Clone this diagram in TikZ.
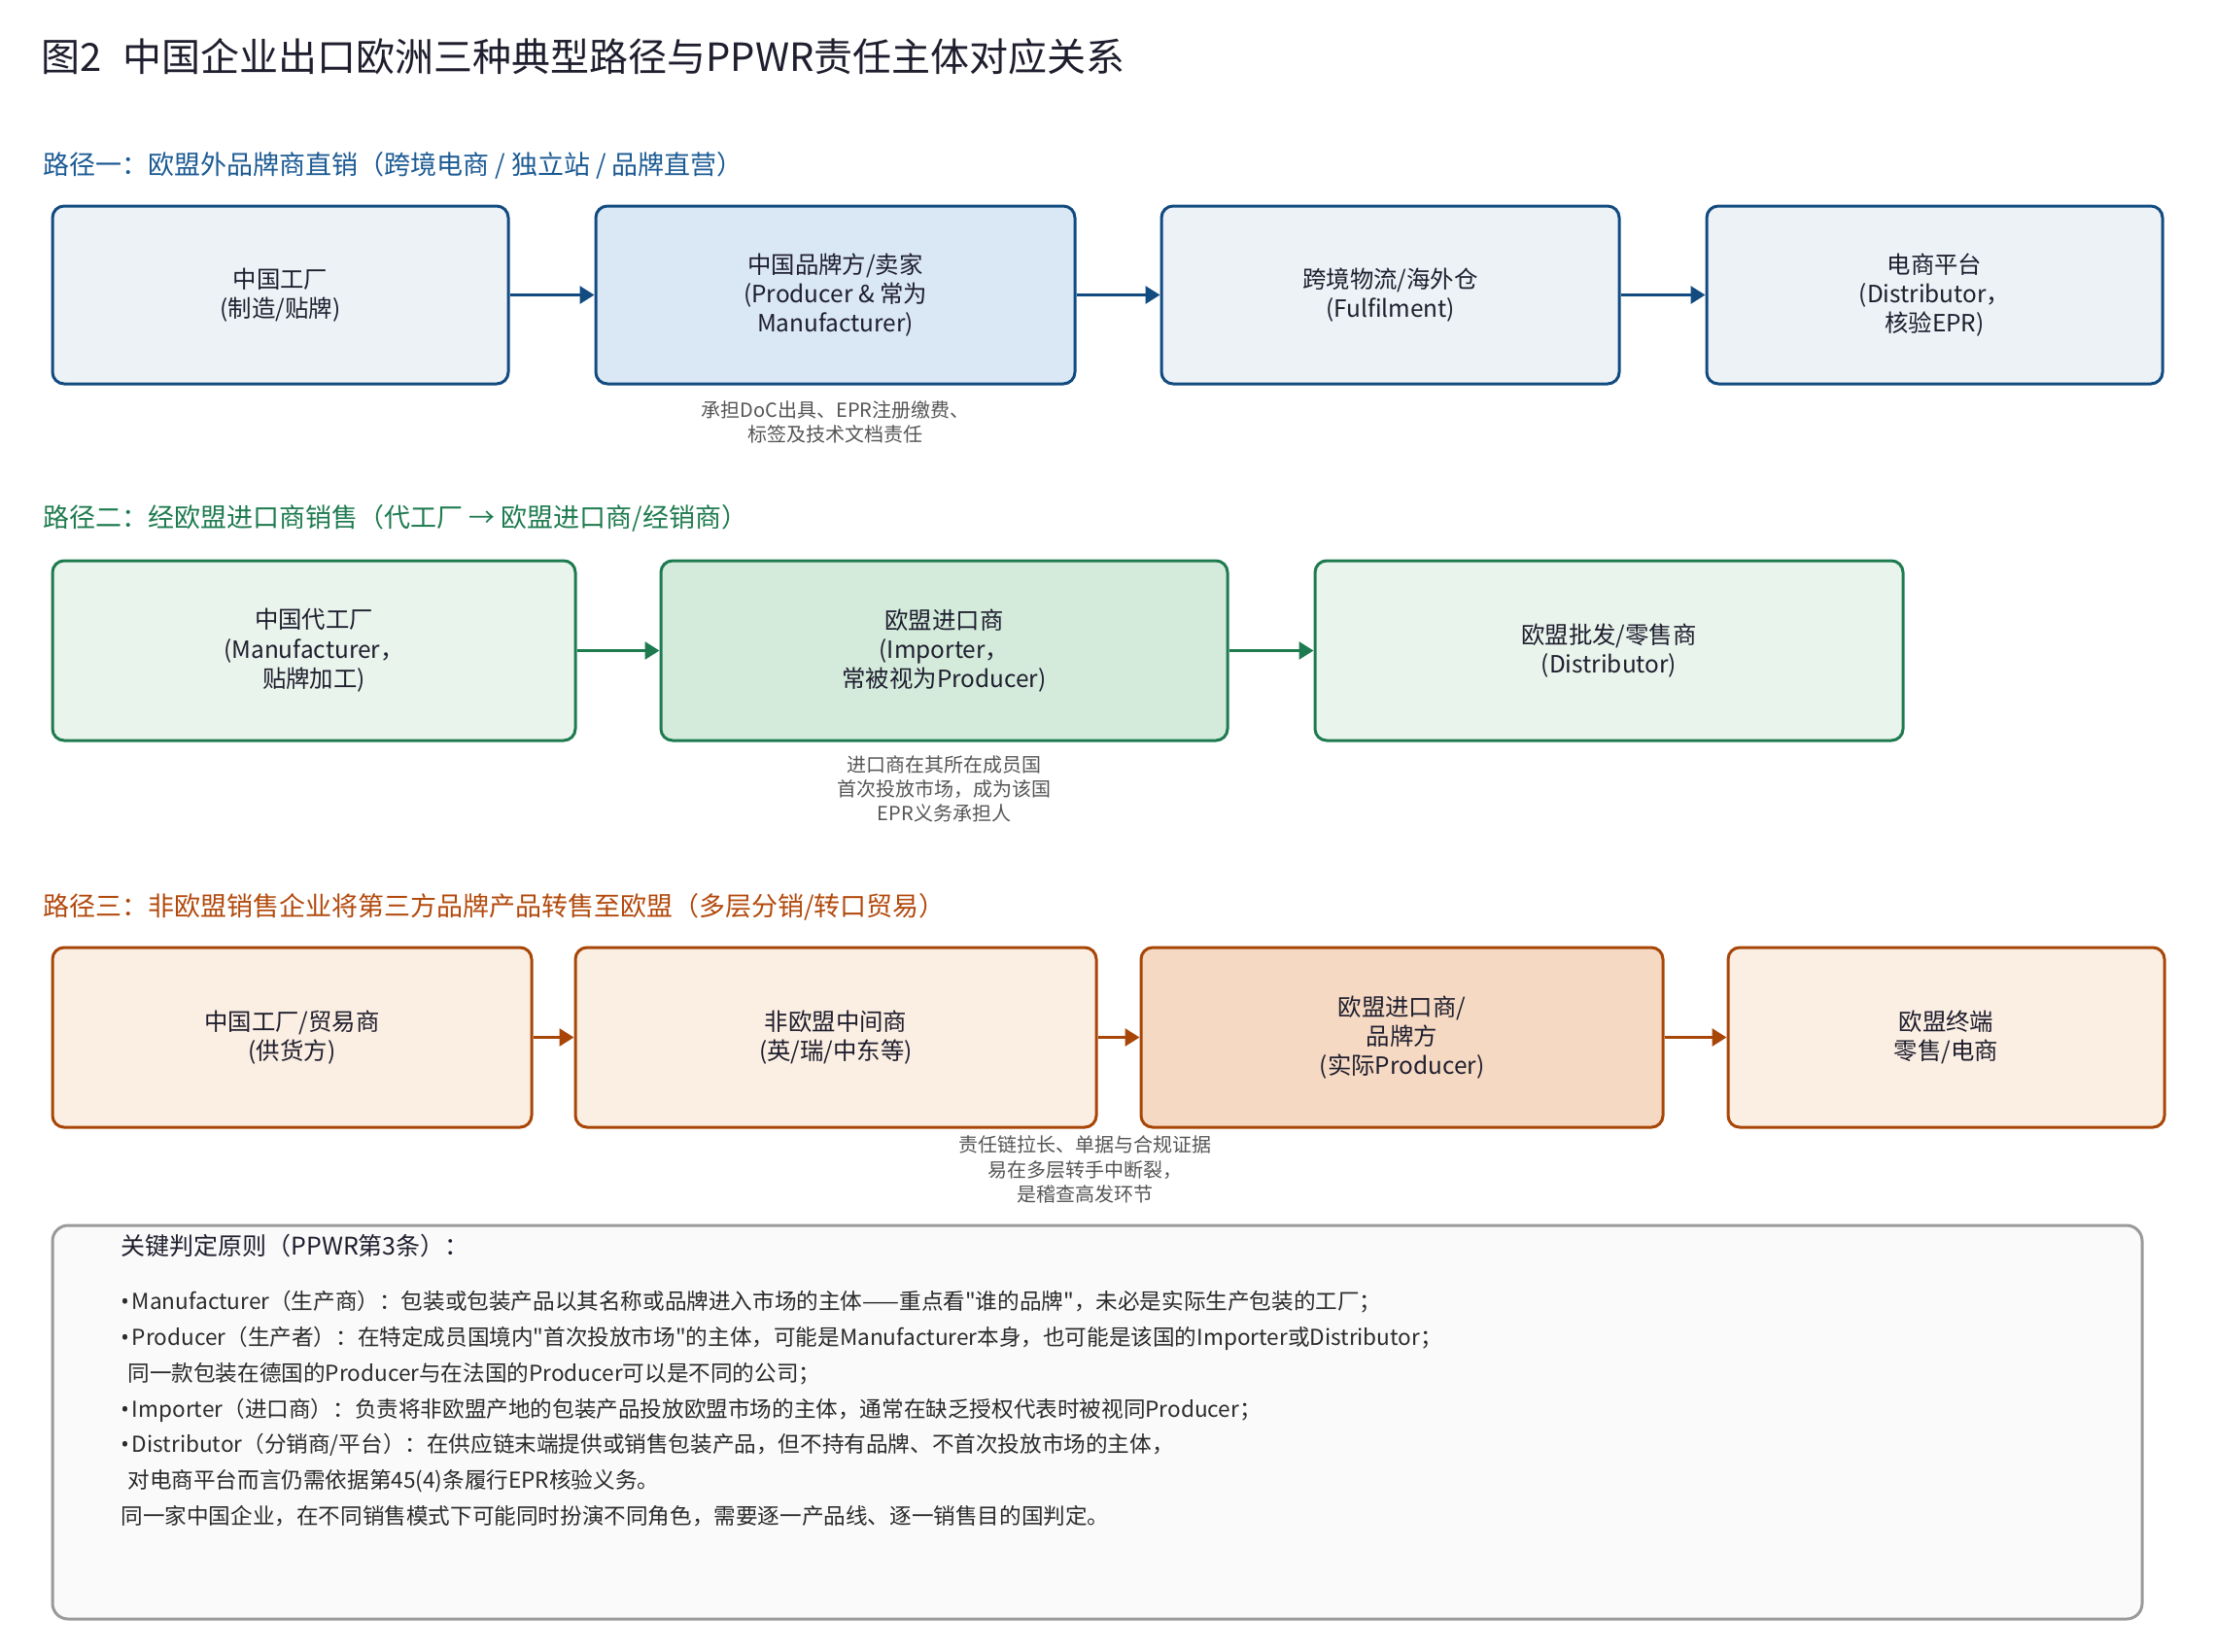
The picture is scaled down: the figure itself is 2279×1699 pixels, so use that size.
\documentclass[tikz,border=0pt]{standalone}
\usepackage{fontspec}
\setmainfont{Noto Sans CJK SC}[Ligatures=TeXOff]
\newfontfamily\latinfont{Noto Sans}
\usepackage{xcolor}
\usetikzlibrary{arrows.meta}

\definecolor{ink}{HTML}{1E1E2E}
\definecolor{notegray}{HTML}{555555}
\definecolor{bodytext}{HTML}{2B2B2B}
\definecolor{blueline}{HTML}{114B80}
\definecolor{bluehead}{HTML}{1B5A93}
\definecolor{bluefill}{HTML}{EDF2F7}
\definecolor{bluedeep}{HTML}{DAE7F4}
\definecolor{greenline}{HTML}{1E7B4F}
\definecolor{greenfill}{HTML}{E9F4EC}
\definecolor{greendeep}{HTML}{D4EBDC}
\definecolor{orangeline}{HTML}{A84607}
\definecolor{orangehead}{HTML}{B2490C}
\definecolor{orangefill}{HTML}{FBEEE2}
\definecolor{orangedeep}{HTML}{F5D9C2}
\definecolor{keyline}{HTML}{9A9A9A}
\definecolor{keyfill}{HTML}{FAFAFA}

\newcommand{\keybul}{{\latinfont •}\hspace{1.5pt}}

\begin{document}
\begin{tikzpicture}[x=0.5pt,y=-0.5pt,
      box/.style={draw, rounded corners=6pt, line width=1.5pt, align=center,
        inner sep=0pt, text=ink, font=\fontsize{12.2}{15.2}\selectfont},
      blbox/.style={box, draw=blueline, fill=bluefill, minimum height=91.5pt},
      grbox/.style={box, draw=greenline, fill=greenfill, minimum height=92.5pt},
      orbox/.style={box, draw=orangeline, fill=orangefill, minimum height=92.5pt},
      head/.style={anchor=west, inner sep=0pt, font=\fontsize{13.5}{16}\selectfont},
      note/.style={align=center, inner sep=0pt, text=notegray, font=\fontsize{10}{12.6}\selectfont},
      arr/.style={-{Triangle[length=7.5pt,width=9pt]}, line width=1.5pt}]
  \useasboundingbox (0,0) rectangle (2279,1699);

  \node[anchor=west, inner sep=0pt, text=ink, font=\fontsize{20}{24}\selectfont] (ttl) at (42,58)
    {图2\hspace{0.55em}中国企业出口欧洲三种典型路径与PPWR责任主体对应关系};

  % path one
  \node[head, text=bluehead] (h1) at (44,170) {路径一：欧盟外品牌商直销（跨境电商 / 独立站 / 品牌直营）};
  \node[blbox, minimum width=234.5pt] (a1) at (288.5,303.5) {中国工厂\\(制造/贴牌)};
  \node[blbox, fill=bluedeep, minimum width=246.5pt] (a2) at (859.5,303.5) {中国品牌方/卖家\\(Producer \& 常为\\Manufacturer)};
  \node[blbox, minimum width=235.5pt] (a3) at (1430.5,303.5) {跨境物流/海外仓\\(Fulfilment)};
  \node[blbox, minimum width=234.5pt] (a4) at (1990.5,303.5) {电商平台\\(Distributor，\\核验EPR)};
  \node[note] (n1) at (859.5,434.5) {承担DoC出具、EPR注册缴费、\\标签及技术文档责任};
  \foreach \i/\j in {a1/a2,a2/a3,a3/a4}
    \draw[arr, blueline] (\i) -- (\j);

  % path two
  \node[head, text=greenline] (h2) at (44,533) {路径二：经欧盟进口商销售（代工厂 → 欧盟进口商/经销商）};
  \node[grbox, minimum width=269pt] (b1) at (323,669.5) {中国代工厂\\(Manufacturer，\\贴牌加工)};
  \node[grbox, fill=greendeep, minimum width=291.5pt] (b2) at (971.5,669.5) {欧盟进口商\\(Importer，\\常被视为Producer)};
  \node[grbox, minimum width=302.5pt] (b3) at (1655.5,669.5) {欧盟批发/零售商\\(Distributor)};
  \node[note] (n2) at (971.5,812) {进口商在其所在成员国\\首次投放市场，成为该国\\EPR义务承担人};
  \foreach \i/\j in {b1/b2,b2/b3}
    \draw[arr, greenline] (\i) -- (\j);

  % path three
  \node[head, text=orangehead] (h3) at (44,933) {路径三：非欧盟销售企业将第三方品牌产品转售至欧盟（多层分销/转口贸易）};
  \node[orbox, minimum width=246.5pt] (c1) at (300.5,1067.5) {中国工厂/贸易商\\(供货方)};
  \node[orbox, minimum width=268pt] (c2) at (860,1067.5) {非欧盟中间商\\(英/瑞/中东等)};
  \node[orbox, fill=orangedeep, minimum width=268.5pt] (c3) at (1442.5,1067.5) {欧盟进口商/\\品牌方\\(实际Producer)};
  \node[orbox, minimum width=224.5pt] (c4) at (2002.5,1067.5) {欧盟终端\\零售/电商};
  \node[note] (n3) at (1116,1203.5) {责任链拉长、单据与合规证据\\易在多层转手中断裂，\\是稽查高发环节};
  \foreach \i/\j in {c1/c2,c2/c3,c3/c4}
    \draw[arr, orangeline] (\i) -- (\j);

  % key principles
  \node[draw=keyline, fill=keyfill, line width=1.5pt, rounded corners=8pt, inner sep=0pt,
    minimum width=1075pt, minimum height=202.5pt] (keybox) at (1129,1463.5) {};
  \node[anchor=west, inner sep=0pt, text=ink, font=\fontsize{12.5}{15}\selectfont] (keyhead) at (124,1282)
    {关键判定原则（PPWR第3条）：};
  \node[anchor=north west, align=left, inner sep=0pt, text=bodytext, font=\fontsize{11.3}{18.4}\selectfont] (keytext) at (124,1328)
    {\keybul Manufacturer（生产商）：包装或包装产品以其名称或品牌进入市场的主体——重点看"谁的品牌"，未必是实际生产包装的工厂；\\
     \keybul Producer（生产者）：在特定成员国境内"首次投放市场"的主体，可能是Manufacturer本身，也可能是该国的Importer或Distributor；\\
     \hspace*{3.5pt}同一款包装在德国的Producer与在法国的Producer可以是不同的公司；\\
     \keybul Importer（进口商）：负责将非欧盟产地的包装产品投放欧盟市场的主体，通常在缺乏授权代表时被视同Producer；\\
     \keybul Distributor（分销商/平台）：在供应链末端提供或销售包装产品，但不持有品牌、不首次投放市场的主体，\\
     \hspace*{3.5pt}对电商平台而言仍需依据第45(4)条履行EPR核验义务。\\
     同一家中国企业，在不同销售模式下可能同时扮演不同角色，需要逐一产品线、逐一销售目的国判定。};
\end{tikzpicture}
\end{document}
